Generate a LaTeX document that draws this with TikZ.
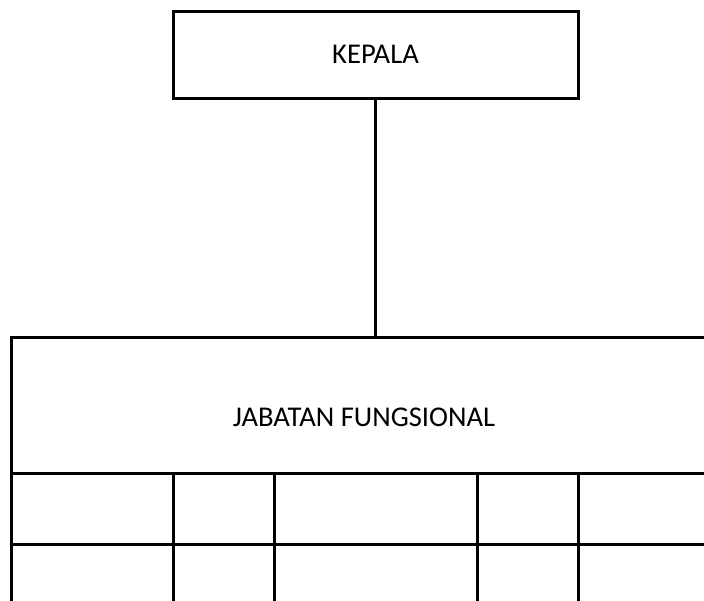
\documentclass[tikz,border=0pt]{standalone}
\usepackage{fontspec}
\setmainfont{Carlito}
\usepackage{tikz}
\usetikzlibrary{positioning}
\tikzset{unit box/.style = {rectangle,draw,inner sep=0pt}}

\begin{document}
\begin{tikzpicture}[x=0.5pt,y=-0.5pt,line width=1.5pt,font=\fontsize{14.3}{17}\selectfont]
            \useasboundingbox (0,0) rectangle (704,600);
            \clip (0,0) rectangle (704,600);

            \node[unit box,minimum width=202.5pt,minimum height=43.5pt] (kepala) at (375.5,54.5) {KEPALA};
            \node[unit box,minimum width=353pt,minimum height=68pt] (jf) at (364,405) {};
            \node (jftext) at ([yshift=-6pt]jf.center) {JABATAN FUNGSIONAL};

            \draw (kepala.south) -- (kepala.south |- jf.north);

            % baris tabel di bawah
            \foreach \xa/\xb in {11/173,173/274,274/477,477/578,578/717}
                \foreach \ya/\yb in {473/544,544/620}
                    \draw (\xa,\ya) rectangle (\xb,\yb);
        \end{tikzpicture}
\end{document}
